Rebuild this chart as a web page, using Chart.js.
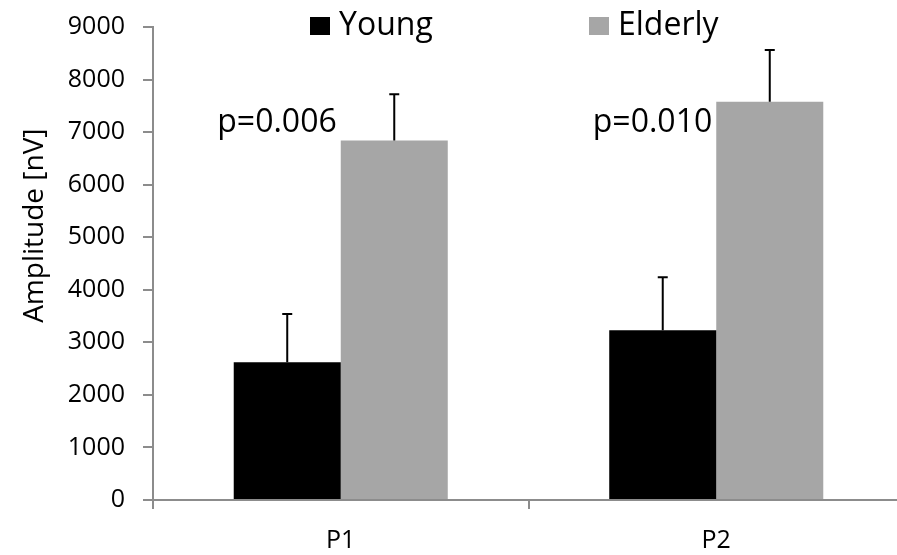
<!DOCTYPE html>
<html>
<head>
<meta charset="utf-8">
<script src="https://cdn.jsdelivr.net/npm/chart.js@4"></script>
<style>
  html, body { margin: 0; padding: 0; background: #fff; overflow: hidden; }
  #wrap { width: 904px; height: 555px; }
</style>
</head>
<body>
<div id="wrap"><canvas id="ampChart"></canvas></div>
<script>
// Dados
const categories = ['P1', 'P2'];
const youngValues = [2620, 3230];
const youngErrors = [920, 1010];
const elderlyValues = [6840, 7580];
const elderlyErrors = [880, 980];
const pLabels = ['p=0.006', 'p=0.010'];
const yTicks = [0, 1000, 2000, 3000, 4000, 5000, 6000, 7000, 8000, 9000];
const yTitle = 'Amplitude [nV]';

const FONT = '"Open Sans", sans-serif';
const AXIS_GREY = '#8c8c8c';

// Barras de erro (só para cima)
const errorBars = {
    id: 'errorBars',
    afterDatasetsDraw(chart) {
        const c = chart.ctx;
        const yScale = chart.scales.y;
        chart.data.datasets.forEach((ds, i) => {
            const meta = chart.getDatasetMeta(i);
            meta.data.forEach((bar, j) => {
                const top = yScale.getPixelForValue(ds.data[j] + ds.errors[j]);
                c.save();
                c.strokeStyle = '#000';
                c.lineWidth = 2;
                c.beginPath();
                c.moveTo(bar.x, bar.y);
                c.lineTo(bar.x, top);
                c.moveTo(bar.x - 5, top);
                c.lineTo(bar.x + 5, top);
                c.stroke();
                c.restore();
            });
        });
    }
};

// Legenda, título do eixo e valores de p desenhados à mão
const overlays = {
    id: 'overlays',
    afterDraw(chart) {
        const c = chart.ctx;
        const xScale = chart.scales.x;
        const yScale = chart.scales.y;
        c.save();
        c.font = '32px ' + FONT;
        c.fillStyle = '#000';
        c.textBaseline = 'middle';
        c.textAlign = 'right';
        pLabels.forEach((txt, i) => {
            c.fillText(txt, xScale.getPixelForValue(i) - 4, yScale.getPixelForValue(7170));
        });

        // legenda
        const legendX = [310, 589];
        chart.data.datasets.forEach((ds, i) => {
            c.fillStyle = ds.backgroundColor;
            c.fillRect(legendX[i], 17, 20, 18);
            c.fillStyle = '#000';
            c.textAlign = 'left';
            c.font = '32px ' + FONT;
            c.fillText(ds.label, legendX[i] + 29, 26);
        });

        // título do eixo y (um pouco acima do centro, como no original)
        c.translate(35, yScale.getPixelForValue(5220));
        c.rotate(-Math.PI / 2);
        c.textAlign = 'center';
        c.fillStyle = '#000';
        c.font = '28px ' + FONT;
        c.fillText(yTitle, 0, 0);
        c.restore();
    }
};

new Chart(document.getElementById('ampChart'), {
    type: 'bar',
    data: {
        labels: categories,
        datasets: [
            { label: 'Young', data: youngValues, errors: youngErrors, backgroundColor: '#000000' },
            { label: 'Elderly', data: elderlyValues, errors: elderlyErrors, backgroundColor: '#a6a6a6' }
        ]
    },
    options: {
        responsive: true,
        maintainAspectRatio: false,
        animation: false,
        layout: { padding: 0 },
        datasets: { bar: { categoryPercentage: 0.57, barPercentage: 1.0 } },
        plugins: {
            legend: { display: false },
            tooltip: { enabled: false }
        },
        scales: {
            x: {
                grid: { display: true, drawOnChartArea: false, offset: true, color: AXIS_GREY, tickLength: 9, lineWidth: 2 },
                border: { color: AXIS_GREY, width: 2 },
                ticks: { color: '#000', font: { family: FONT, size: 25 }, padding: 17 },
                afterFit(scale) { scale.height = 55; }
            },
            y: {
                min: 0,
                max: 9000,
                afterBuildTicks(scale) { scale.ticks = yTicks.map(v => ({ value: v })); },
                grid: { drawOnChartArea: false, color: AXIS_GREY, tickLength: 10, lineWidth: 2 },
                border: { color: AXIS_GREY, width: 2 },
                ticks: {
                    color: '#000',
                    font: { family: FONT, size: 25, lineHeight: 0.72 },
                    padding: 18,
                    callback: (v) => String(v)
                },
                title: { display: false },
                afterFit(scale) { scale.width = 153; }
            }
        }
    },
    plugins: [errorBars, overlays]
});
</script>
</body>
</html>
